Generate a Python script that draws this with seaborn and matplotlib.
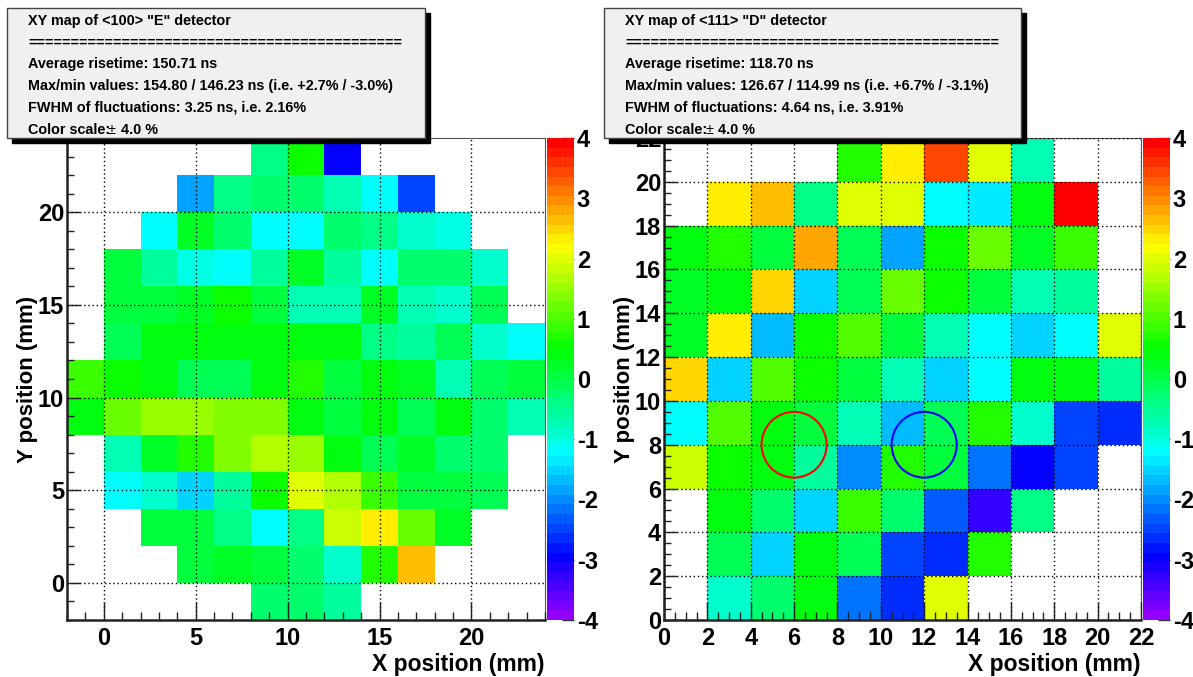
#Risetime XY maps of the two detectors, drawn as seaborn heatmaps in the ROOT style
import colorsys

import numpy as np
import matplotlib
matplotlib.use("Agg")
import matplotlib.pyplot as plt
from matplotlib.colors import ListedColormap
from matplotlib.patches import Rectangle, Ellipse
import seaborn as sns

W, H = 1193, 677
n = np.nan

#Deviation in % per 2 mm cell, rows from the top of the map down
#Left map: x = -2 ... 22, y = 22 ... -2
left_x_edges = [-2, 0, 2, 4, 6, 8, 10, 12, 14, 16, 18, 20, 22, 24]
left_y_edges = [24, 22, 20, 18, 16, 14, 12, 10, 8, 6, 4, 2, 0, -2]
left_values = [
    [n, n, n, n, n, -0.35, 0.6, -3.0, n, n, n, n, n],
    [n, n, n, -1.8, -0.45, -0.3, -0.2, -0.8, -1.15, -2.5, n, n, n],
    [n, n, -1.2, 0.3, -0.3, -1.2, -1.25, -0.2, -0.35, -0.9, -1.1, n, n],
    [n, 0.1, -0.6, -1.0, -1.2, -0.5, 0.3, -0.55, -1.2, -0.25, -0.25, -0.9, n],
    [n, 0.05, 0.0, 0.3, 0.5, 0.1, -0.8, -0.8, 0.2, -0.7, -0.9, -0.1, n],
    [n, -0.1, 0.45, 0.45, 0.4, 0.35, 0.45, 0.45, -0.45, -0.55, -0.1, -0.85, -1.25],
    [0.95, 0.55, 0.45, -0.05, -0.05, 0.4, 0.7, 0.1, 0.35, 0.2, -0.75, -0.1, 0.05],
    [0.45, 1.25, 1.55, 1.55, 1.3, 1.3, 0.45, 0.0, 0.4, -0.15, 0.35, -0.3, -0.7],
    [n, -0.7, 0.25, 0.7, 1.4, 1.75, 1.5, 0.45, -0.15, 0.2, -0.2, -0.3, n],
    [n, -1.15, -0.85, -1.5, -0.6, 0.6, 2.0, 1.7, 0.9, 0.1, 0.0, -0.1, n],
    [n, n, 0.15, 0.15, -0.45, -1.15, -0.35, 1.85, 2.25, 1.15, 0.3, n, n],
    [n, n, n, 0.15, 0.2, 0.0, -0.2, -0.95, 0.75, 2.65, n, n, n],
    [n, n, n, n, n, -0.25, -0.3, -0.5, n, n, n, n, n],
]

#Right map: x = 0 ... 20, y = 20 ... 0
right_x_edges = [0, 2, 4, 6, 8, 10, 12, 14, 16, 18, 20, 22]
right_y_edges = [22, 20, 18, 16, 14, 12, 10, 8, 6, 4, 2, 0]
right_values = [
    [n, n, n, n, 0.7, 2.3, 3.5, 2.0, -0.65, n, n],
    [n, 2.3, 2.7, -0.4, 2.0, 2.0, -1.15, -1.4, 0.35, 3.9, n],
    [0.4, 0.75, 0.0, 2.8, -0.1, -1.85, 0.6, 1.2, 0.3, 0.9, n],
    [0.2, 0.4, 2.5, -1.55, -0.1, 1.2, 0.55, 0.05, -0.8, -0.6, n],
    [0.3, 2.3, -1.7, 0.6, 1.05, 0.15, -0.65, -1.2, -1.6, -1.2, 1.95],
    [2.55, -1.55, 1.0, 0.5, 0.15, -0.8, -1.55, -1.25, 0.35, 0.35, -0.55],
    [-1.25, 1.0, 0.35, 0.05, -0.65, -1.75, -0.1, 0.7, -0.95, -2.5, -2.7],
    [1.85, 0.5, 0.35, -0.6, -2.0, 0.7, 0.05, -2.1, -3.0, -2.45, n],
    [n, 0.4, -0.25, -1.6, 0.9, -0.3, -2.4, -3.2, -0.35, n, n],
    [n, -0.05, -1.5, 0.4, -0.15, -2.45, -2.7, 0.7, n, n, n],
    [n, -0.95, -0.25, 0.35, -2.15, -2.6, 1.95, n, n, n, n],
]

#Text of the two stat boxes
left_lines = ['XY map of <100> "E" detector',
              "=" * 44,
              "Average risetime: 150.71 ns",
              "Max/min values: 154.80 / 146.23 ns (i.e. +2.7% / -3.0%)",
              "FWHM of fluctuations: 3.25 ns, i.e. 2.16%"]
right_lines = ['XY map of <111> "D" detector',
               "=" * 44,
               "Average risetime: 118.70 ns",
               "Max/min values: 126.67 / 114.99 ns (i.e. +6.7% / -3.1%)",
               "FWHM of fluctuations: 4.64 ns, i.e. 3.91%"]

#Circles on the right map: centre x, centre y, radius in mm, colour
circles = [(6, 8, 1.5, "#ff0000"), (12, 8, 1.5, "#0000ff")]

cbar_ticks = [-4, -3, -2, -1, 0, 1, 2, 3, 4]

sns.set_theme(style="white")
plt.rcParams["font.family"] = ["Liberation Sans", "DejaVu Sans"]
plt.rcParams["font.weight"] = "bold"
plt.rcParams["axes.unicode_minus"] = False

#ROOT's pretty palette: 50 colours, violet up to red
palette = [colorsys.hls_to_rgb((280 - (i + 1) * 5.6) / 360, 0.5, 1) for i in range(50)]
cmap = ListedColormap(palette)


def px_rect(x0, y0, x1, y1):
    #Pixel box (y from the top) to figure fraction [l, b, w, h]
    return [x0 / W, 1 - y1 / H, (x1 - x0) / W, (y1 - y0) / H]


fig = plt.figure(figsize=(W / 100, H / 100), dpi=100)


def draw_map(values, x_edges, y_edges, ax_box, cbar_box, x_major, y_major, x_minor, y_minor):
    ax = fig.add_axes(px_rect(*ax_box))
    cax = fig.add_axes(px_rect(*cbar_box))
    sns.heatmap(np.array(values, dtype=float), ax=ax, cbar_ax=cax, cmap=cmap, vmin=-4, vmax=4,
                xticklabels=False, yticklabels=False, square=False,
                cbar_kws={"ticks": cbar_ticks})

    #Heatmap works in cell numbers, so turn mm into cell positions for the ticks
    xpos = lambda v: (np.asarray(v, dtype=float) - x_edges[0]) / 2
    ypos = lambda v: (y_edges[0] - np.asarray(v, dtype=float)) / 2

    ax.set_xticks(xpos(x_major))
    ax.set_xticklabels([str(v) for v in x_major], fontsize=17, fontweight="bold", color="black")
    ax.set_yticks(ypos(y_major))
    ax.set_yticklabels([str(v) for v in y_major], fontsize=17, fontweight="bold", color="black")
    ax.set_xticks(xpos(x_minor), minor=True)
    ax.set_yticks(ypos(y_minor), minor=True)
    ax.tick_params(axis="x", which="major", direction="in", length=13, width=1, color="#222222",
                   pad=5, bottom=True)
    ax.tick_params(axis="y", which="major", direction="in", length=9.5, width=1, color="#222222",
                   pad=2, left=True)
    ax.tick_params(axis="x", which="minor", direction="in", length=6, width=1, color="#222222", bottom=True)
    ax.tick_params(axis="y", which="minor", direction="in", length=5, width=1, color="#222222", left=True)
    ax.grid(True, which="major", color="black", linestyle=(0, (1, 2)), linewidth=1)
    ax.set_axisbelow(False)

    for side, lw in (("left", 1.8), ("bottom", 1.8), ("top", 0.8), ("right", 0.8)):
        ax.spines[side].set_visible(True)
        ax.spines[side].set_linewidth(lw)
        ax.spines[side].set_color("#222222" if lw > 1 else "#555555")

    ax.set_xlabel("X position (mm)", fontsize=16.5, fontweight="bold", ha="right", color="black")
    ax.xaxis.set_label_coords(1.0, -0.068)
    ax.set_ylabel("Y position (mm)", fontsize=16, fontweight="bold", color="black")
    ax.yaxis.set_label_coords(-0.061, 0.5)

    cbar = ax.collections[0].colorbar
    cbar.outline.set_visible(False)
    cax.tick_params(axis="y", direction="in", length=9, width=1, color="#333333", pad=2,
                    labelsize=17, labelcolor="black", right=True)
    for lab in cax.get_yticklabels():
        lab.set_fontweight("bold")
    return ax


left_ax = draw_map(left_values, left_x_edges, left_y_edges, (67, 138, 545, 620), (547, 138, 574, 620),
                   [0, 5, 10, 15, 20], [0, 5, 10, 15, 20], list(range(-2, 25)), list(range(-2, 25)))
right_ax = draw_map(right_values, right_x_edges, right_y_edges, (664, 138, 1141, 620), (1143, 138, 1170, 620),
                    list(range(0, 23, 2)), list(range(0, 23, 2)),
                    list(np.arange(0, 22.5, 0.5)), list(np.arange(0, 22.5, 0.5)))

for cx, cy, r, col in circles:
    right_ax.add_patch(Ellipse(((cx - right_x_edges[0]) / 2, (right_y_edges[0] - cy) / 2), r, r,
                               fill=False, edgecolor=col, linewidth=1.5, zorder=5))


def stat_box(x0, y0, x1, y1, lines):
    #Shadow first, then the grey box, then the text lines
    fig.add_artist(Rectangle((x0 / W + 5 / W, 1 - y1 / H - 5 / H), (x1 - x0) / W, (y1 - y0) / H,
                             transform=fig.transFigure, facecolor="black", edgecolor="black", zorder=10))
    fig.add_artist(Rectangle((x0 / W, 1 - y1 / H), (x1 - x0) / W, (y1 - y0) / H,
                             transform=fig.transFigure, facecolor="#f0f0f0", edgecolor="#444444",
                             linewidth=1, zorder=11))
    for i, line in enumerate(lines):
        fig.text((x0 + 21) / W, 1 - (21 + i * 21.7) / H, line, fontsize=10.4, fontweight="bold",
                 va="center", ha="left", zorder=12, color="black")
    ypos = 1 - (21 + 5 * 21.7) / H
    fig.text((x0 + 21) / W, ypos, "Color scale:", fontsize=10.4, fontweight="bold", va="center", zorder=12, color="black")
    fig.text((x0 + 101) / W, ypos, "\u00b1", fontsize=10.4, fontweight="normal", va="center", zorder=12, color="black")
    fig.text((x0 + 114) / W, ypos, "4.0 %", fontsize=10.4, fontweight="bold", va="center", zorder=12, color="black")


stat_box(7, 8, 425, 138, left_lines)
stat_box(604, 8, 1021, 138, right_lines)

plt.savefig("out.png", dpi=100)
